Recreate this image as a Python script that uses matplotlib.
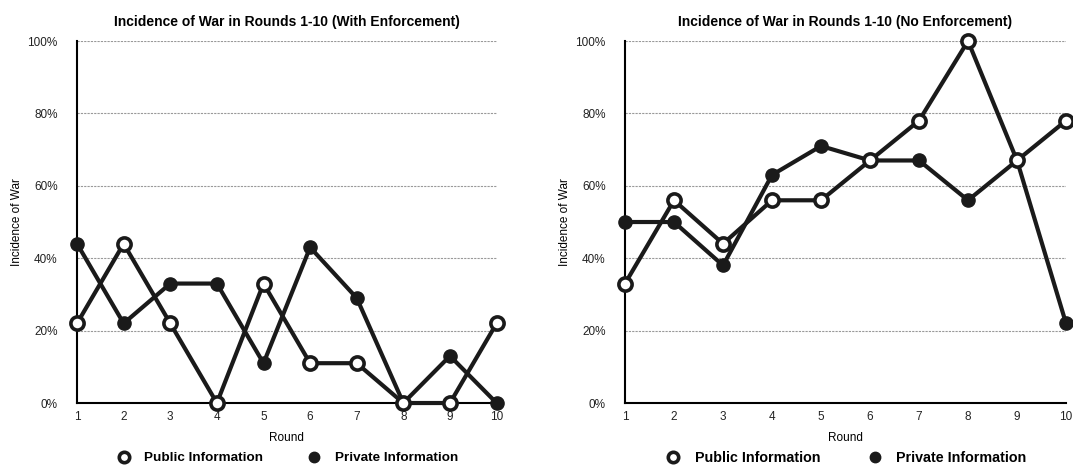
import numpy as np
import matplotlib.pyplot as plt

plt.rcParams['font.family'] = ['Liberation Sans', 'DejaVu Sans']

rounds = [1, 2, 3, 4, 5, 6, 7, 8, 9, 10]

# with enforcement (percent)
enf_public = [22, 44, 22, 0, 33, 11, 11, 0, 0, 22]
enf_private = [44, 22, 33, 33, 11, 43, 29, 0, 13, 0]

# no enforcement (percent)
noenf_public = [33, 56, 44, 56, 56, 67, 78, 100, 67, 78]
noenf_private = [50, 50, 38, 63, 71, 67, 67, 56, 67, 22]

titles = ['Incidence of War in Rounds 1-10 (With Enforcement)',
          'Incidence of War in Rounds 1-10 (No Enforcement)']
yticks = [0, 20, 40, 60, 80, 100]
ytick_labels = ['0%', '20%', '40%', '60%', '80%', '100%']

fig = plt.figure(figsize=(10.73, 4.65), dpi=100)
ax1 = fig.add_axes([0.0718, 0.1333, 0.391, 0.7785])
ax2 = fig.add_axes([0.5825, 0.1333, 0.411, 0.7785])


def draw_panel(ax, public, private, title, fsize):
    ax.plot(rounds, public, color='#1a1a1a', lw=3, marker='o', ms=9.5,
            mfc='white', mec='#1a1a1a', mew=2.6, clip_on=False, zorder=4,
            label='Public Information')
    ax.plot(rounds, private, color='#1a1a1a', lw=3, marker='o', ms=9.5,
            mfc='#1a1a1a', mec='#1a1a1a', clip_on=False, zorder=3,
            label='Private Information')
    ax.set_xlim(1, 10)
    ax.set_ylim(0, 100)
    ax.set_xticks(rounds)
    ax.set_yticks(yticks)
    ax.set_yticklabels(ytick_labels)
    ax.tick_params(length=0, labelsize=8.5, colors='#222222', pad=6)
    ax.tick_params(axis='y', pad=14)
    for y in yticks[1:]:
        ax.axhline(y, color='#999999', lw=0.8, ls=(0, (2, 1)), zorder=1)
    for s in ['top', 'right']:
        ax.spines[s].set_visible(False)
    ax.spines['left'].set_linewidth(1.5)
    ax.spines['bottom'].set_linewidth(1.5)
    ax.set_title(title, fontsize=10, fontweight='bold', pad=11)
    ax.set_xlabel('Round', fontsize=8.5, labelpad=6)
    ax.set_ylabel('Incidence of War', fontsize=8.5, labelpad=3)
    ax.legend(loc='center', bbox_to_anchor=(0.5, -0.152), ncol=2,
              frameon=False, prop={'weight': 'bold', 'size': fsize},
              columnspacing=3.2, handlelength=1.2, handletextpad=0.9,
              borderpad=0)
    for line in ax.get_legend().get_lines():
        line.set_linestyle('none')
        line.set_markersize(7.5)


draw_panel(ax1, enf_public, enf_private, titles[0], 9.7)
draw_panel(ax2, noenf_public, noenf_private, titles[1], 10.3)

fig.savefig('out.png', dpi=100)
